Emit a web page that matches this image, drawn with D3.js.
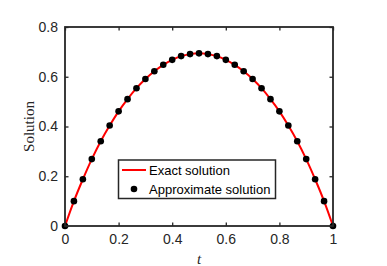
<!DOCTYPE html>
<html>
<head>
<meta charset="utf-8">
<script src="https://cdn.jsdelivr.net/npm/d3@7"></script>
<style>
  body { margin: 0; background: #fff; }
  svg { display: block; }
</style>
</head>
<body>
<svg id="fig"></svg>
<script>
// valeurs (31 noeuds, h = 1/30)
const tNodes = d3.range(31).map(i => i / 30);
const exactVals = [0, 0.100, 0.188, 0.269, 0.341, 0.404, 0.461, 0.510, 0.554, 0.591, 0.622,
  0.648, 0.668, 0.683, 0.691, 0.694, 0.691, 0.683, 0.668, 0.648, 0.622,
  0.591, 0.554, 0.510, 0.461, 0.404, 0.341, 0.269, 0.188, 0.100, 0];
const approxVals = exactVals.slice();
const xTicks = [0, 0.2, 0.4, 0.6, 0.8, 1];
const yTicks = [0, 0.2, 0.4, 0.6, 0.8];

var width = 387, height = 266;
var margin = {top: 27, right: 54, bottom: 40, left: 65};

const svg = d3.select("#fig").attr("width", width).attr("height", height);

const x = d3.scaleLinear().domain([0, 1]).range([margin.left, width - margin.right]);
const y = d3.scaleLinear().domain([0, 0.8]).range([height - margin.bottom, margin.top]);

const axisColor = "#262626";
const sans = "'Liberation Sans', Arial, sans-serif";
const serif = "'Liberation Serif', 'Times New Roman', serif";

// courbe exacte
const line = d3.line().x((d, i) => x(tNodes[i])).y(d => y(d)).curve(d3.curveMonotoneX);
svg.append("path")
  .datum(exactVals)
  .attr("d", line)
  .attr("fill", "none")
  .attr("stroke", "#ff0000")
  .attr("stroke-width", 2);

// points approchés
svg.selectAll("circle.pt")
  .data(approxVals)
  .join("circle")
  .attr("class", "pt")
  .attr("cx", (d, i) => x(tNodes[i]))
  .attr("cy", d => y(d))
  .attr("r", 3.3)
  .attr("fill", "black");

// axes (ticks vers l'intérieur, sur les 4 côtés)
function styleAxis(g) {
  g.selectAll(".domain").remove();
  g.selectAll(".tick line").attr("stroke", axisColor).attr("stroke-width", 1.3);
  g.selectAll(".tick text").attr("fill", axisColor).style("font-family", sans).style("font-size", "14px");
}
const axBottom = svg.append("g")
  .attr("transform", `translate(0,${y(0)})`)
  .call(d3.axisBottom(x).tickValues(xTicks).tickFormat(d3.format("")).tickSize(-3.5).tickPadding(8));
styleAxis(axBottom);
const axLeft = svg.append("g")
  .attr("transform", `translate(${x(0)},0)`)
  .call(d3.axisLeft(y).tickValues(yTicks).tickFormat(d3.format("")).tickSize(-3.5).tickPadding(7));
styleAxis(axLeft);
const axTop = svg.append("g")
  .attr("transform", `translate(0,${y(0.8)})`)
  .call(d3.axisTop(x).tickValues(xTicks).tickFormat("").tickSize(-3.5));
styleAxis(axTop);
const axRight = svg.append("g")
  .attr("transform", `translate(${x(1)},0)`)
  .call(d3.axisRight(y).tickValues(yTicks).tickFormat("").tickSize(-3.5));
styleAxis(axRight);

svg.append("rect")
  .attr("x", x(0)).attr("y", y(0.8))
  .attr("width", x(1) - x(0)).attr("height", y(0) - y(0.8))
  .attr("fill", "none").attr("stroke", axisColor).attr("stroke-width", 1.8);

// titres d'axes
svg.append("text")
  .attr("x", (x(0) + x(1)) / 2).attr("y", 264)
  .attr("text-anchor", "middle")
  .style("font-family", serif).style("font-style", "italic").style("font-size", "15px")
  .attr("fill", axisColor)
  .text("t");
svg.append("text")
  .attr("transform", `translate(34,${(y(0) + y(0.8)) / 2}) rotate(-90)`)
  .attr("text-anchor", "middle")
  .style("font-family", serif).style("font-size", "15px")
  .attr("fill", axisColor)
  .text("Solution");

// légende
const leg = svg.append("g").attr("transform", "translate(118.5,160)");
leg.append("rect")
  .attr("width", 157).attr("height", 38.5)
  .attr("fill", "white").attr("stroke", axisColor).attr("stroke-width", 1.5);
leg.append("line")
  .attr("x1", 3.5).attr("x2", 27.5).attr("y1", 10).attr("y2", 10)
  .attr("stroke", "#ff0000").attr("stroke-width", 2);
leg.append("circle").attr("cx", 15.5).attr("cy", 29).attr("r", 3.3).attr("fill", "black");
leg.append("text").attr("x", 30.5).attr("y", 14.5)
  .style("font-family", sans).style("font-size", "13px").attr("fill", "black")
  .text("Exact solution");
leg.append("text").attr("x", 30.5).attr("y", 33.7)
  .style("font-family", sans).style("font-size", "13px").attr("fill", "black")
  .text("Approximate solution");
</script>
</body>
</html>
